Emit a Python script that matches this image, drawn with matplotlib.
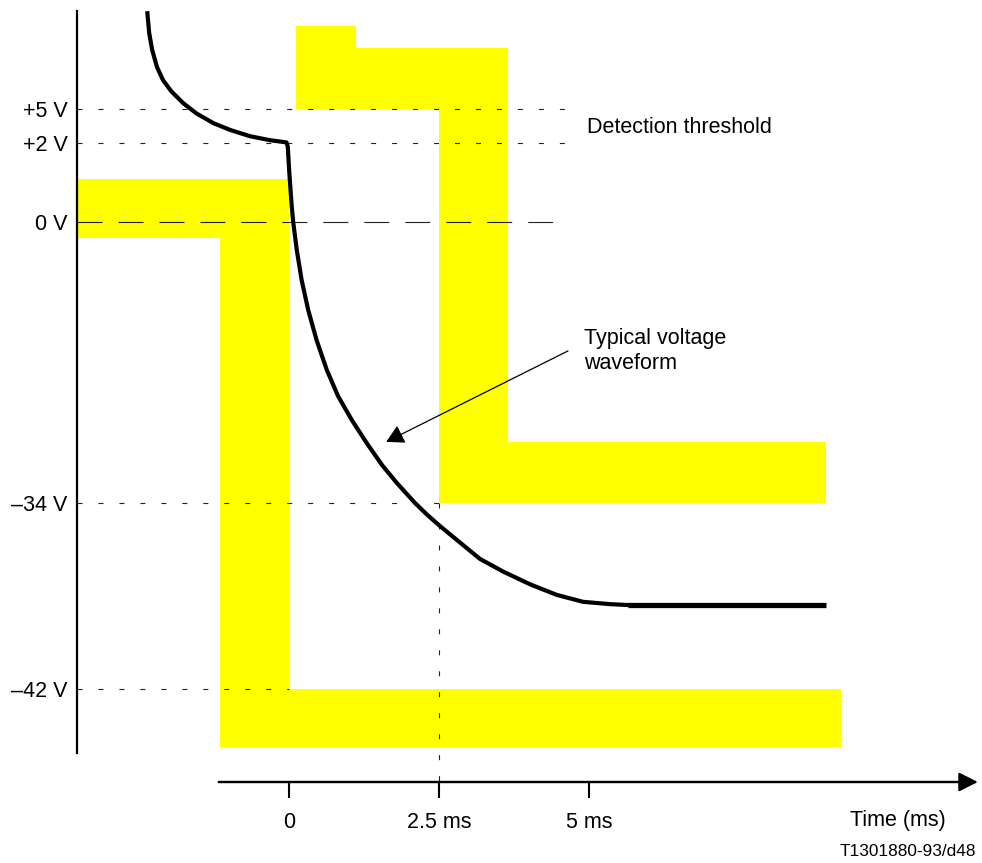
import numpy as np
import matplotlib
matplotlib.use('Agg')
import matplotlib.pyplot as plt

plt.rcParams['font.family'] = ['Liberation Sans', 'DejaVu Sans']
plt.rcParams['lines.scale_dashes'] = False

# voltage levels marked on the y axis
LEVELS = [5, 2, 0, -34, -42]
LEVEL_LABELS = ['+5 V', '+2 V', '0 V', '\u201334 V', '\u201342 V']

# time axis ticks (ms)
TIME_TICKS = [0, 2.5, 5]
TIME_LABELS = ['0', '2.5 ms', '5 ms']

# typical voltage waveform (ms, V)
WAVE_T = [-2.36, -2.33, -2.28, -2.2, -2.1, -1.96, -1.76, -1.54, -1.26, -0.98,
          -0.65, -0.32, -0.04, -0.02, 0.005, 0.045, 0.07, 0.13, 0.21, 0.32,
          0.46, 0.63, 0.82, 1.05, 1.3, 1.55, 1.8, 2.1, 2.3, 2.52,
          2.85, 3.18, 3.57, 4.02, 4.46, 4.9, 5.35, 5.74]
WAVE_V = [13.45, 11.7, 10.2, 8.7, 7.55, 6.55, 5.5, 4.6, 3.75, 3.15,
          2.6, 2.25, 2.05, 1.9, 1.25, 0.4, 0.0, -3.4, -7.0, -10.65,
          -14.3, -17.9, -21.1, -24.0, -26.8, -29.4, -31.6, -34.0, -34.5, -35.0,
          -35.7, -36.4, -36.95, -37.5, -37.95, -38.25, -38.35, -38.4]
# settled part of the waveform
FLAT_T = [5.65, 8.95]
FLAT_V = [-38.4, -38.4]

# upper mask (detection region)
UPPER_T = [0.12, 1.12, 1.12, 3.65, 3.65, 8.95, 8.95, 2.5, 2.5, 0.12]
UPPER_V = [12.3, 12.3, 10.4, 10.4, -26.6, -26.6, -34, -34, 5, 5]
# lower mask
LOWER_T = [-3.53, 0, 0, 9.2, 9.2, -1.15, -1.15, -3.53]
LOWER_V = [1.1, 1.1, -42, -42, -44.5, -44.5, -1.9, -1.9]

# the voltage axis of the original is schematic (not linear):
# pixel row (from top) at which each voltage is drawn
_V_KNOTS = np.array([-200, -42, -34, 0, 2, 5, 200])
_ROWS = np.array([4362.5, 689, 503, 222, 143, 109, -2100])


def fwd(v):
    return np.interp(v, _V_KNOTS, -_ROWS)


def inv(r):
    return np.interp(r, -_ROWS, _V_KNOTS)


W, H = 982, 863
fig = plt.figure(figsize=(W / 100, H / 100), dpi=100)
ax = fig.add_axes([0, 0, 1, 1])
ax.set_yscale('function', functions=(fwd, inv))
ax.set_xlim(-289 / 60, (W - 289) / 60)
ax.set_ylim(float(inv(-H)), float(inv(0)))

# masks
ax.fill(UPPER_T, UPPER_V, color='#ffff00', lw=0, zorder=1)
ax.fill(LOWER_T, LOWER_V, color='#ffff00', lw=0, zorder=1)

# reference lines
short = (0, (3.6, 11.5))
dash_kw = dict(lw=0.8, color='#222222', zorder=3)
y0 = -3.53
ax.plot([y0, 4.65], [5, 5], ls=short, **dash_kw)
ax.plot([y0, 4.65], [2, 2], ls=short, **dash_kw)
ax.plot([y0, 4.65], [0, 0], ls=(0, (18, 11.5)), **dash_kw)
ax.plot([y0, 2.5], [-34, -34], ls=short, **dash_kw)
ax.plot([y0, 0], [-42, -42], ls=short, **dash_kw)
ax.plot([2.5, 2.5], [-34, -46], ls=short, **dash_kw)

# waveform
ax.plot(WAVE_T, WAVE_V, color='k', lw=3.0, solid_joinstyle='round', zorder=4)
ax.plot(FLAT_T, FLAT_V, color='k', lw=3.8, solid_capstyle='butt', zorder=4)

# axes
for s in ['top', 'right']:
    ax.spines[s].set_visible(False)
ax.spines['left'].set_position(('data', y0))
ax.spines['left'].set_bounds(-44.75, 13.65)
ax.spines['left'].set_linewidth(1.6)
ax.spines['bottom'].set_position(('data', -46.0))
ax.spines['bottom'].set_bounds(-1.17, 11.2)
ax.spines['bottom'].set_linewidth(1.6)
ax.annotate('', xy=(11.48, -46.0), xytext=(-1.17, -46.0),
            arrowprops=dict(arrowstyle='-|>,head_length=1.15,head_width=0.58',
                            lw=1.6, color='k', shrinkA=0, shrinkB=0))

ax.set_yticks(LEVELS, LEVEL_LABELS)
ax.minorticks_off()
ax.tick_params(axis='y', length=0, pad=7, labelsize=15.5)
ax.set_xticks(TIME_TICKS, TIME_LABELS)
ax.tick_params(axis='x', direction='out', length=11.5, width=1.5, pad=10,
               labelsize=15.5)

# annotations
ax.annotate('', xy=(1.62, -26.6), xytext=(4.65, -15.6),
            arrowprops=dict(arrowstyle='-|>,head_length=1.08,head_width=0.6',
                            lw=0.9, color='k', shrinkA=0, shrinkB=0))
ax.text(4.92, -15.6, 'Typical voltage\nwaveform', ha='left', va='center',
        fontsize=15.5, linespacing=1.25)
ax.text(4.97, 3.4, 'Detection threshold', ha='left', va='center', fontsize=15.5)

fig.text(898 / W, 1 - 820 / H, 'Time (ms)', ha='center', va='center', fontsize=15.5)
fig.text(908 / W, 1 - 851 / H, 'T1301880-93/d48', ha='center', va='center',
         fontsize=12.4)

fig.savefig('out.png', dpi=100)
